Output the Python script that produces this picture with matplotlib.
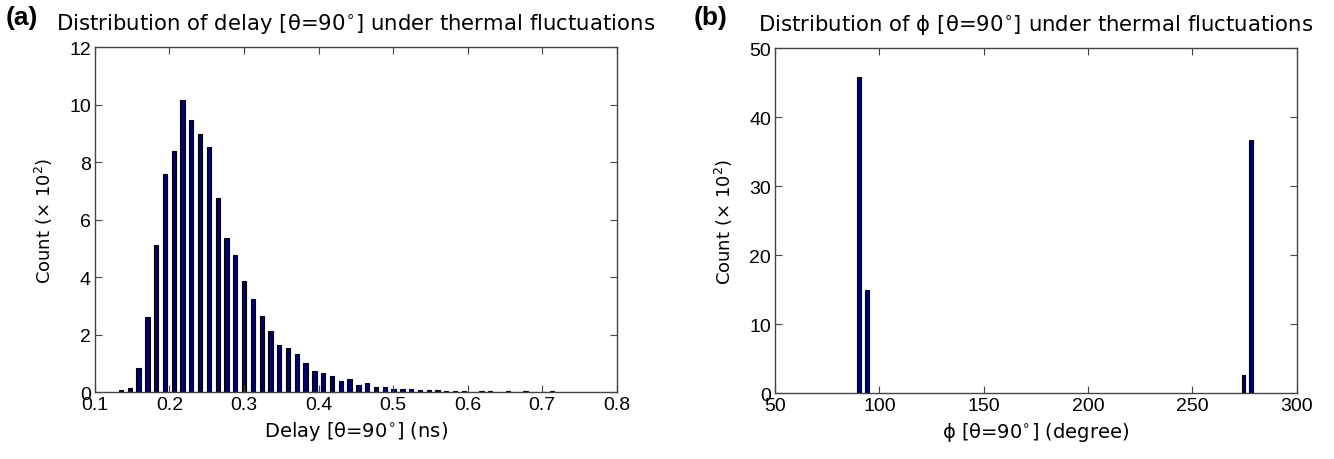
import matplotlib.pyplot as plt

# (a) delay histogram, counts in units of 10^2
delay_bins = [0.1349, 0.1467, 0.1585, 0.1703, 0.1821, 0.1939, 0.2057, 0.2175, 0.2293, 0.2411,
              0.2529, 0.2647, 0.2765, 0.2883, 0.3001, 0.3119, 0.3237, 0.3355, 0.3473, 0.3591,
              0.3709, 0.3827, 0.3945, 0.4063, 0.4181, 0.4299, 0.4417, 0.4535, 0.4653, 0.4771,
              0.4889, 0.5007, 0.5125, 0.5243, 0.5361, 0.5479, 0.5597, 0.5715, 0.5833, 0.5951,
              0.6069, 0.6187, 0.6305, 0.6423, 0.6541, 0.6659, 0.6777, 0.6895, 0.7013, 0.7131]
delay_counts = [0.08, 0.15, 0.86, 2.61, 5.11, 7.60, 8.39, 10.17, 9.47, 8.97,
                8.53, 6.75, 5.38, 4.76, 3.86, 3.24, 2.65, 2.14, 1.63, 1.53,
                1.32, 1.01, 0.74, 0.66, 0.55, 0.39, 0.46, 0.25, 0.31, 0.20,
                0.19, 0.13, 0.12, 0.11, 0.08, 0.07, 0.07, 0.06, 0.06, 0.05,
                0.01, 0.04, 0.04, 0.0, 0.04, 0.0, 0.03, 0.0, 0.0, 0.03]

# (b) phi histogram (non-empty bins only)
phi_bins = [90.2, 94.1, 274.4, 278.2]
phi_counts = [45.8, 15.0, 2.6, 36.7]

delay_ticks = [0.1, 0.2, 0.3, 0.4, 0.5, 0.6, 0.7, 0.8]
delay_yticks = [0, 2, 4, 6, 8, 10, 12]
phi_ticks = [50, 100, 150, 200, 250, 300]
phi_yticks = [0, 10, 20, 30, 40, 50]

bar_color = '#00006e'
tick_font = 'Liberation Sans'
label_font = 'DejaVu Sans'

fig = plt.figure(figsize=(13.34, 4.6), dpi=100)
ax1 = fig.add_axes([0.0712, 0.145, 0.391, 0.750])
ax2 = fig.add_axes([0.581, 0.143, 0.391, 0.750])


def style(ax, xticks, yticks):
    ax.set_xticks(xticks)
    ax.set_yticks(yticks)
    ax.set_xticklabels([('%g' % t) for t in xticks], fontsize=14, family=tick_font)
    ax.set_yticklabels([('%g' % t) for t in yticks], fontsize=14, family=tick_font)
    ax.tick_params(direction='in', top=True, right=True, length=5, width=0.8, color='#444444', pad=3)
    for s in ax.spines.values():
        s.set_color('#444444')
        s.set_linewidth(1.0)


ax1.bar(delay_bins, delay_counts, width=0.0058, color=bar_color, edgecolor='black', linewidth=0.8)
ax1.set_xlim(0.1, 0.8)
ax1.set_ylim(0, 12)
style(ax1, delay_ticks, delay_yticks)
ax1.set_xlabel(r'Delay [θ=90$^{\circ}$] (ns)', fontsize=14, family=label_font, labelpad=4)
ax1.set_ylabel(r'Count (× 10$^2$)', fontsize=13, family=label_font, labelpad=10)
ax1.set_title(r'Distribution of delay [θ=90$^{\circ}$] under thermal fluctuations',
              fontsize=15.3, family=label_font, pad=13)

ax2.bar(phi_bins, phi_counts, width=1.6, color=bar_color, edgecolor='black', linewidth=0.8)
ax2.set_xlim(50, 300)
ax2.set_ylim(0, 50)
style(ax2, phi_ticks, phi_yticks)
ax2.set_xlabel(r'ϕ [θ=90$^{\circ}$] (degree)', fontsize=14, family=label_font, labelpad=4)
ax2.set_ylabel(r'Count (× 10$^2$)', fontsize=13, family=label_font, labelpad=10)
ax2.set_title(r'Distribution of ϕ [θ=90$^{\circ}$] under thermal fluctuations',
              fontsize=15.3, family=label_font, pad=13)

fig.text(0.004, 0.945, '(a)', fontsize=19, fontweight='bold', family='Liberation Sans')
fig.text(0.520, 0.945, '(b)', fontsize=19, fontweight='bold', family='Liberation Sans')

fig.savefig('out.png', dpi=100)
